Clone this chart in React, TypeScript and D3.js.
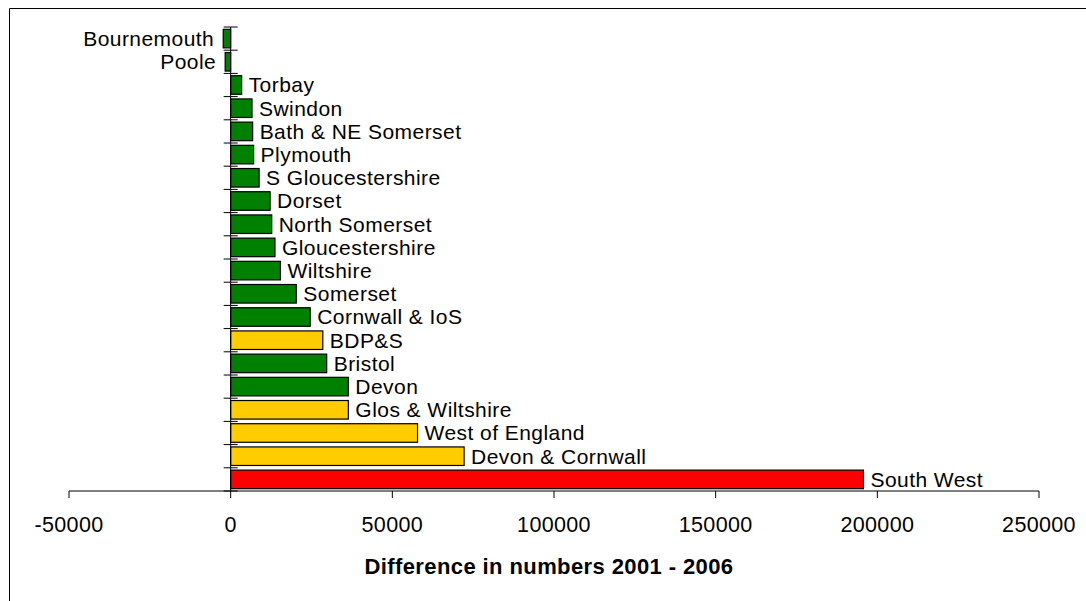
import React from "react";
import * as d3 from "d3";

const categories = [
  "Bournemouth", "Poole", "Torbay", "Swindon", "Bath & NE Somerset", "Plymouth",
  "S Gloucestershire", "Dorset", "North Somerset", "Gloucestershire", "Wiltshire",
  "Somerset", "Cornwall & IoS", "BDP&S", "Bristol", "Devon", "Glos & Wiltshire",
  "West of England", "Devon & Cornwall", "South West",
];
const values = [
  -2300, -1700, 3400, 6600, 6800, 7100, 8800, 12200, 12700, 13700, 15400,
  20300, 24600, 28500, 29700, 36400, 36400, 57800, 72200, 195700,
];
const groups = [
  "la", "la", "la", "la", "la", "la", "la", "la", "la", "la", "la",
  "la", "la", "sub", "la", "la", "sub", "sub", "sub", "region",
];
const groupColors: Record<string, string> = { la: "#008000", sub: "#FFCC00", region: "#FF0000" };
const xTicks = [-50000, 0, 50000, 100000, 150000, 200000, 250000];
const axisTitle = "Difference in numbers 2001 - 2006";

export default function App() {
  const x = d3.scaleLinear().domain([-50000, 250000]).range([69, 1039]);
  const y = d3.scaleBand<string>().domain(categories).range([27, 491]).padding(0);
  const bw = y.bandwidth();
  const font = "'Liberation Sans', Arial, sans-serif";
  const x0 = x(0);
  const axisY = 491;
  return (
    <svg
      width={1086}
      height={601}
      style={{ position: "absolute", left: 0, top: 0, background: "#fff" }}
      fontFamily={font}
    >
      <rect x={0} y={0} width={1086} height={601} fill="#fff" />
      <line x1={9.5} y1={8.5} x2={1086} y2={8.5} stroke="#000" />
      <line x1={9.5} y1={8.5} x2={9.5} y2={601} stroke="#000" />
      {categories.map((c, i) => {
        const v = values[i];
        const yy = (y(c) as number) + bw * 0.1;
        const h = bw * 0.8;
        const xa = Math.min(x(0), x(v));
        const w = Math.abs(x(v) - x(0));
        const cy = (y(c) as number) + bw / 2;
        return (
          <g key={c}>
            <rect x={xa} y={yy} width={w} height={h} fill={groupColors[groups[i]]} stroke="#000" strokeWidth={1.2} />
            <text
              x={v >= 0 ? x(v) + 7 : x(v) - 9}
              y={cy + 7.4}
              fontSize={21}
              letterSpacing={0.45}
              textAnchor={v >= 0 ? "start" : "end"}
              fill="#000"
            >
              {c}
            </text>
          </g>
        );
      })}
      {/* category axis */}
      <line x1={x0} y1={27} x2={x0} y2={axisY} stroke="#000" />
      {categories.map((c) => (
        <line key={"t" + c} x1={x0 - 7} x2={x0 + 7} y1={(y(c) as number)} y2={(y(c) as number)} stroke="#000" />
      ))}
      <line x1={x0 - 7} x2={x0 + 7} y1={axisY} y2={axisY} stroke="#000" />
      {/* value axis */}
      <line x1={x(-50000)} y1={axisY} x2={x(250000)} y2={axisY} stroke="#000" />
      {xTicks.map((t) => (
        <g key={"x" + t}>
          <line x1={x(t)} x2={x(t)} y1={axisY} y2={axisY + 7} stroke="#000" />
          <text x={x(t)} y={531.5} fontSize={21.5} letterSpacing={0.35} textAnchor="middle" fill="#000">
            {t}
          </text>
        </g>
      ))}
      <text x={549} y={574} fontSize={22} letterSpacing={0.4} fontWeight="bold" textAnchor="middle" fill="#000">
        {axisTitle}
      </text>
    </svg>
  );
}
